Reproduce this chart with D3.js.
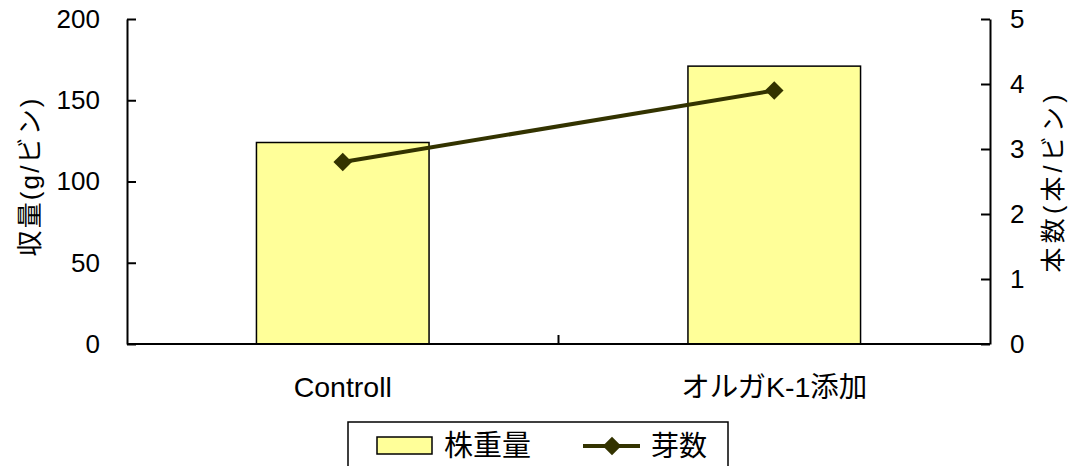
<!DOCTYPE html>
<html>
<head>
<meta charset="utf-8">
<script src="https://cdn.jsdelivr.net/npm/d3@7"></script>
<style>
  body { margin: 0; background: #fff; }
  svg { display: block; font-family: "Liberation Sans", "Noto Sans CJK JP", sans-serif; }
</style>
</head>
<body>
<svg id="chart" width="1070" height="466"></svg>
<script>
// data
const categories = ["Controll", "オルガK-1添加"];
const weights = [124, 171];    // 株重量 (g/ビン)
const buds = [2.8, 3.9];       // 芽数 (本/ビン)
const leftTicks = [0, 50, 100, 150, 200];
const rightTicks = [0, 1, 2, 3, 4, 5];

const width = 1070, height = 466;
const marginTop = 19, marginLeft = 127, marginRight = 80, plotBottom = 344;

const svg = d3.select("#chart");

const x = d3.scaleBand().domain(categories).range([marginLeft, width - marginRight]).padding(0);
const yLeft = d3.scaleLinear().domain([0, 200]).range([plotBottom, marginTop]);
const yRight = d3.scaleLinear().domain([0, 5]).range([plotBottom, marginTop]);

const barW = x.bandwidth() * 0.4;
const lineColor = "#333300";

// bars
svg.append("g")
  .selectAll("rect")
  .data(categories)
  .enter()
  .append("rect")
    .attr("x", (d) => x(d) + (x.bandwidth() - barW) / 2)
    .attr("y", (d, i) => yLeft(weights[i]))
    .attr("width", barW)
    .attr("height", (d, i) => plotBottom - yLeft(weights[i]))
    .attr("fill", "#ffff99")
    .attr("stroke", "#000")
    .attr("stroke-width", 1.5);

// left axis
const leftAxis = svg.append("g")
  .attr("transform", `translate(${marginLeft},0)`)
  .call(d3.axisLeft(yLeft).tickValues(leftTicks).tickSize(-9).tickSizeOuter(0).tickPadding(27));

// right axis
const rightAxis = svg.append("g")
  .attr("transform", `translate(${width - marginRight},0)`)
  .call(d3.axisRight(yRight).tickValues(rightTicks).tickFormat(d3.format("d"))
    .tickSize(-9).tickSizeOuter(0).tickPadding(20));

// x axis: ticks at category boundaries, pointing inward
const xAxis = svg.append("g")
  .attr("transform", `translate(0,${plotBottom})`);
xAxis.append("line")
  .attr("x1", marginLeft).attr("x2", width - marginRight)
  .attr("stroke", "#000").attr("stroke-width", 2);
xAxis.selectAll(".xtick")
  .data(categories.slice(1))
  .enter()
  .append("line")
    .attr("x1", (d) => x(d)).attr("x2", (d) => x(d))
    .attr("y1", 0).attr("y2", -9)
    .attr("stroke", "#000").attr("stroke-width", 2);
xAxis.selectAll(".xlabel")
  .data(categories)
  .enter()
  .append("text")
    .attr("x", (d) => x(d) + x.bandwidth() / 2)
    .attr("y", 53)
    .attr("text-anchor", "middle")
    .attr("font-size", 28.5)
    .attr("fill", "#000")
    .text((d) => d);

[leftAxis, rightAxis].forEach((a) => {
  a.selectAll(".domain").attr("stroke", "#000").attr("stroke-width", 2);
  a.selectAll(".tick line").attr("stroke", "#000").attr("stroke-width", 2);
  a.selectAll(".tick text").attr("font-size", 26).attr("fill", "#000")
    .attr("font-family", "Liberation Sans, sans-serif");
});

// axis titles
svg.append("text")
  .attr("transform", `translate(39,${(marginTop + plotBottom) / 2 - 4}) rotate(-90)`)
  .attr("text-anchor", "middle")
  .attr("font-size", 26)
  .attr("textLength", 158)
  .attr("lengthAdjust", "spacing")
  .text("収量(g/ビン)");

svg.append("text")
  .attr("transform", `translate(1062,${(marginTop + plotBottom) / 2 + 2}) rotate(-90)`)
  .attr("text-anchor", "middle")
  .attr("font-size", 25)
  .attr("textLength", 178)
  .attr("lengthAdjust", "spacing")
  .text("本数(本/ビン)");

// line series on right axis
const cx = (d) => x(d) + x.bandwidth() / 2;
svg.append("path")
  .datum(categories)
  .attr("fill", "none")
  .attr("stroke", lineColor)
  .attr("stroke-width", 4)
  .attr("d", d3.line().x((d) => cx(d)).y((d, i) => yRight(buds[i])));

const diamond = d3.symbol().type(d3.symbolDiamond2).size(220);
svg.append("g")
  .selectAll("path")
  .data(categories)
  .enter()
  .append("path")
    .attr("d", diamond)
    .attr("transform", (d, i) => `translate(${cx(d)},${yRight(buds[i])})`)
    .attr("fill", lineColor);

// legend
const legend = svg.append("g");
legend.append("rect")
  .attr("x", 348).attr("y", 422).attr("width", 380).attr("height", 70)
  .attr("fill", "#fff").attr("stroke", "#000").attr("stroke-width", 1.5);
legend.append("rect")
  .attr("x", 377).attr("y", 437).attr("width", 55).attr("height", 17)
  .attr("fill", "#ffff99").attr("stroke", "#000").attr("stroke-width", 1.5);
legend.append("text")
  .attr("x", 444).attr("y", 456).attr("font-size", 29).text("株重量");
legend.append("line")
  .attr("x1", 583).attr("x2", 640).attr("y1", 446).attr("y2", 446)
  .attr("stroke", lineColor).attr("stroke-width", 4);
legend.append("path")
  .attr("d", diamond)
  .attr("transform", "translate(612,446)")
  .attr("fill", lineColor);
legend.append("text")
  .attr("x", 651).attr("y", 456).attr("font-size", 28).text("芽数");
</script>
</body>
</html>
